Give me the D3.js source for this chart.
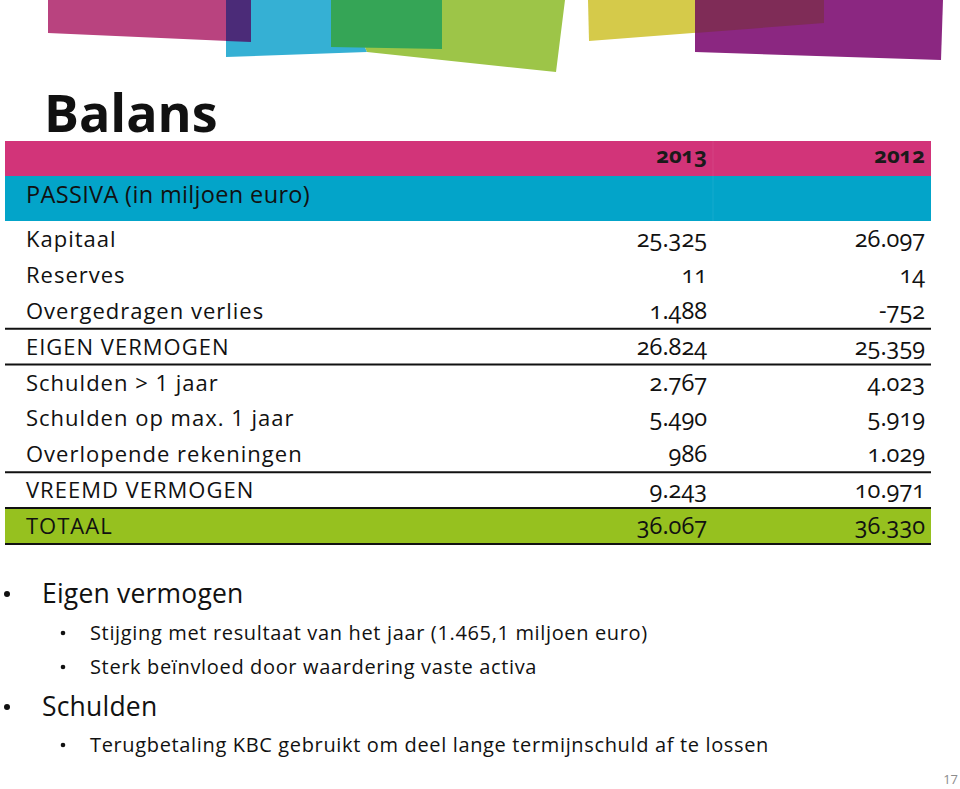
<!DOCTYPE html>
<html>
<head>
<meta charset="utf-8">
<script src="https://cdn.jsdelivr.net/npm/d3@7/dist/d3.min.js"></script>
<style>
    body { margin: 0; background: #fff; }
    svg { display: block; font-family: "Open Sans", "Noto Sans", sans-serif; }
    .num { font-variant-numeric: oldstyle-nums; }
</style>
</head>
<body>
<div id="slide"></div>
<script>
    // ---- data ----
    var years = ["2013", "2012"];
    var headerLabel = "PASSIVA (in miljoen euro)";
    var rowLabels = ["Kapitaal", "Reserves", "Overgedragen verlies", "EIGEN VERMOGEN",
        "Schulden > 1 jaar", "Schulden op max. 1 jaar", "Overlopende rekeningen",
        "VREEMD VERMOGEN", "TOTAAL"];
    var values2013 = [25325, 11, 1488, 26824, 2767, 5490, 986, 9243, 36067];
    var values2012 = [26097, 14, -752, 25359, 4023, 5919, 1029, 10971, 36330];
    // rows that get a rule underneath
    var ruledRows = ["Overgedragen verlies", "EIGEN VERMOGEN", "Overlopende rekeningen",
        "VREEMD VERMOGEN", "TOTAAL"];
    var bullets = [
        {level: 0, text: "Eigen vermogen"},
        {level: 1, text: "Stijging met resultaat van het jaar (1.465,1 miljoen euro)"},
        {level: 1, text: "Sterk beïnvloed door waardering vaste activa"},
        {level: 0, text: "Schulden"},
        {level: 1, text: "Terugbetaling KBC gebruikt om deel lange termijnschuld af te lossen"}
    ];

    var width = 960, height = 789;
    var nl = d3.formatLocale({decimal: ",", thousands: ".", grouping: [3], currency: ["€", ""], minus: "-"});
    var fmt = nl.format(",d");

    var svg = d3.select("#slide").append("svg")
        .attr("width", width)
        .attr("height", height);

    /* ------- decorative shapes at the top ------- */
    var shapes = [
        {fill: "#b9437f", pts: [[48,0],[251,0],[251,42],[48,33]]},
        {fill: "#35b0d4", pts: [[226,0],[345,0],[367,52],[226,57]]},
        {fill: "#4b2b78", pts: [[226,0],[251,0],[251,42],[226,41]]},
        {fill: "#9dc548", pts: [[345,0],[565,0],[556,72],[367,52]]},
        {fill: "#35a556", pts: [[331,0],[442,0],[442,49],[331,47]]},
        {fill: "#d5ca4a", pts: [[588,0],[824,0],[824,23],[589,41]]},
        {fill: "#8b2781", pts: [[695,0],[943,0],[941,60],[695,52]]},
        {fill: "#7f2c57", pts: [[695,0],[824,0],[824,23],[695,33]]}
    ];
    svg.append("g").selectAll("polygon")
        .data(shapes)
        .join("polygon")
        .attr("points", function(d) { return d.pts.join(" "); })
        .attr("fill", function(d) { return d.fill; });

    /* ------- title ------- */
    svg.append("text")
        .attr("x", 44)
        .attr("y", 132)
        .attr("font-size", 52)
        .attr("font-weight", 700)
        .attr("fill", "#111")
        .text("Balans");

    /* ------- table ------- */
    var left = 5, right = 931;
    var y = d3.scaleBand().domain(rowLabels).range([221, 544]);
    var col = d3.scaleOrdinal().domain(years).range([707, 925]);

    // header bands
    svg.append("rect").attr("x", left).attr("y", 141).attr("width", right - left).attr("height", 35).attr("fill", "#d23479");
    svg.append("rect").attr("x", left).attr("y", 176).attr("width", right - left).attr("height", 45).attr("fill", "#03a4c9");
    svg.append("line").attr("x1", 713).attr("x2", 713).attr("y1", 141).attr("y2", 221)
        .attr("stroke", "#fff").attr("stroke-opacity", 0.08);

    svg.selectAll("text.year")
        .data(years)
        .join("text")
        .attr("class", "year num")
        .attr("x", function(d) { return col(d); })
        .attr("y", 163)
        .attr("text-anchor", "end")
        .attr("font-size", 22)
        .attr("font-weight", 700)
        .attr("fill", "#1a1a1a")
        .text(function(d) { return d; });

    svg.append("text")
        .attr("x", 26)
        .attr("y", 203)
        .attr("font-size", 23.5)
        .attr("letter-spacing", 0.35)
        .attr("fill", "#111")
        .text(headerLabel);

    // TOTAAL band
    svg.append("rect")
        .attr("x", left)
        .attr("y", y("TOTAAL"))
        .attr("width", right - left)
        .attr("height", y.bandwidth())
        .attr("fill", "#96c11f");

    var rows = svg.append("g").selectAll("g.row")
        .data(rowLabels)
        .join("g")
        .attr("class", "row")
        .attr("transform", function(d) { return "translate(0," + y(d) + ")"; });

    rows.append("text")
        .attr("x", 26)
        .attr("y", 26)
        .attr("font-size", 22)
        .attr("letter-spacing", 1.0)
        .attr("fill", "#111")
        .text(function(d) { return d; });

    rows.append("text")
        .attr("class", "num")
        .attr("x", col("2013"))
        .attr("y", 26)
        .attr("text-anchor", "end")
        .attr("font-size", 23.5)
        .attr("fill", "#111")
        .text(function(d, i) { return fmt(values2013[i]); });

    rows.append("text")
        .attr("class", "num")
        .attr("x", col("2012"))
        .attr("y", 26)
        .attr("text-anchor", "end")
        .attr("font-size", 23.5)
        .attr("fill", "#111")
        .text(function(d, i) { return fmt(values2012[i]); });

    // rules
    var rules = ruledRows.map(function(r) { return y(r) + y.bandwidth(); });
    rules.push(y("TOTAAL"));
    svg.append("g").selectAll("line")
        .data(rules)
        .join("line")
        .attr("x1", left)
        .attr("x2", right)
        .attr("y1", function(d) { return d; })
        .attr("y2", function(d) { return d; })
        .attr("stroke", "#111")
        .attr("stroke-width", 2);

    /* ------- bullets ------- */
    var bulletY = [594, 633, 667, 707, 745];
    var b = svg.append("g").selectAll("g.bullet")
        .data(bullets)
        .join("g")
        .attr("class", "bullet")
        .attr("transform", function(d, i) { return "translate(0," + bulletY[i] + ")"; });

    b.append("circle")
        .attr("cx", function(d) { return d.level ? 63 : 7; })
        .attr("cy", 0)
        .attr("r", function(d) { return d.level ? 2.3 : 3; })
        .attr("fill", "#111");

    b.append("text")
        .attr("x", function(d) { return d.level ? 90 : 42; })
        .attr("y", function(d) { return d.level ? 7 : 9; })
        .attr("font-size", function(d) { return d.level ? 20 : 26.5; })
        .attr("letter-spacing", function(d) { return d.level ? 0.65 : 0.2; })
        .attr("fill", "#111")
        .text(function(d) { return d.text; });

    /* ------- page number ------- */
    svg.append("text")
        .attr("x", 958)
        .attr("y", 784)
        .attr("text-anchor", "end")
        .attr("font-size", 13)
        .attr("fill", "#8c8c8c")
        .text("17");
</script>
</body>
</html>
